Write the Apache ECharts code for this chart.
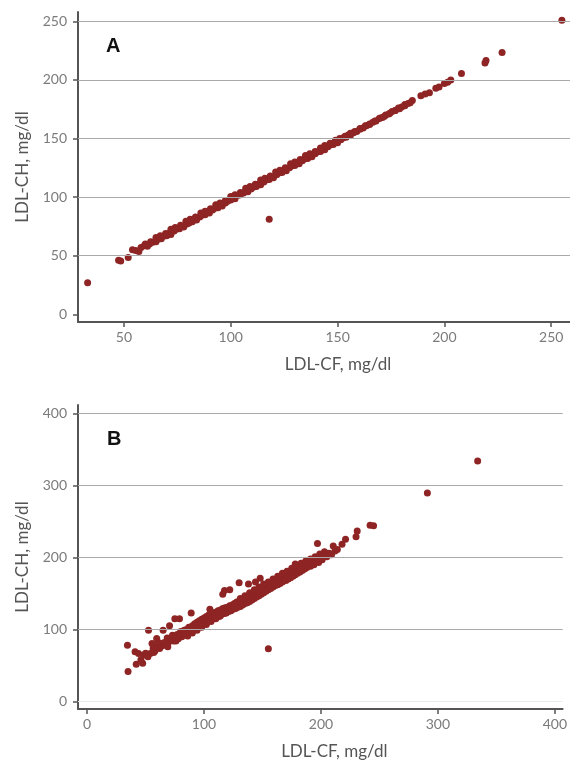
<!DOCTYPE html>
<html lang="en">
<head>
    <meta charset="UTF-8">
    <title>ldl_scatter</title>
    <style type="text/css">
        html, body { margin: 0; padding: 0; background: #fff; }
        #box { width: 570px; height: 761px; }
    </style>
</head>
<body>
<div id="box"></div>
</body>
<script type="text/javascript" src="https://cdn.jsdelivr.net/npm/echarts@6/dist/echarts.min.js"></script>
<script type="text/javascript">
    // panel A: [LDL-CF, LDL-CH]
    let pointsA = [
        [33, 27], [47.5, 46], [48.5, 45.5], [52, 48.5], [54, 55], [55.5, 54.5], [57, 53.5], [58, 57], [59.5, 58.5],
        [61, 58], [62, 60], [63.5, 61.5], [65, 62], [66, 64], [67.5, 64.5], [68.5, 66.5], [70, 67], [71, 69],
        [72, 68], [73.5, 71], [74.5, 72.5], [76, 73], [77, 75], [78, 74.5], [79.5, 77], [80.5, 78], [82, 79],
        [83, 81], [84, 80.5], [85.5, 83], [86.5, 84.5], [88, 85], [89, 87], [90, 86.5], [91.5, 89], [92.5, 90.5],
        [94, 91], [95, 93], [96, 92.5], [97.5, 95], [98.5, 96.5], [100, 97.5], [101, 99], [102, 98.5],
        [103.5, 101.5], [104.5, 102], [106, 103.5], [107, 105], [108, 104.5], [109.5, 107], [110.5, 108.5],
        [112, 109], [113, 111], [114, 110.5], [115.5, 113], [116.5, 114.5], [118, 81], [118, 115], [119, 117],
        [120, 116.5], [121.5, 119], [122.5, 120.5], [124, 121], [125, 123], [126, 122.5], [127.5, 125],
        [128.5, 126.5], [130, 127], [131, 129], [132, 128.5], [133.5, 131], [134.5, 132.5], [136, 133],
        [137, 135], [138, 134.5], [139.5, 137], [140.5, 138.5], [142, 139], [143, 141], [144, 140.5],
        [145.5, 143], [146.5, 144.5], [148, 145], [149, 147], [150, 146.5], [151.5, 149], [152.5, 150.5],
        [154, 151], [155, 153], [156, 152.5], [157.5, 155], [159, 156], [160.5, 158], [162, 159], [163.5, 161],
        [165, 162], [166.5, 164], [168, 165], [169.5, 167], [171, 168], [172.5, 170], [174, 171], [175.5, 173],
        [177, 174], [178.5, 176], [180, 177], [181.5, 179], [183, 180], [185, 182.5], [189, 186.5], [191, 188],
        [193, 189], [196, 193], [197.5, 194], [200, 197], [201.5, 198], [203, 200], [208, 205.5], [219, 214.5],
        [219.5, 216.5], [227, 223.5], [255, 251],
        [60, 60], [62.5, 62], [65, 65.5], [67, 67], [69.5, 69], [72, 72.5], [74, 74], [76.5, 76], [79, 79.5],
        [81, 81], [83.5, 83], [86, 86.5], [88, 88], [90.5, 90], [93, 93.5], [95, 95], [97.5, 97], [100, 100.5],
        [102, 102], [104.5, 104], [107, 107.5], [109, 109], [111.5, 111], [114, 114.5], [116, 116], [118.5, 118],
        [121, 121.5], [123, 123], [125.5, 125], [128, 128.5], [130, 130], [132.5, 132], [135, 135.5], [137, 137],
        [139.5, 139], [142, 142], [144, 144], [146.5, 146], [149, 148.5], [151, 150], [153.5, 152], [156, 154.5],
        [158, 156], [160.5, 158.5], [163, 161], [165, 162.5], [167.5, 165], [170, 167.5], [172, 169],
        [174.5, 171.5], [177, 174], [179, 175.5], [181.5, 178], [184, 180.5]
    ];

    // panel B: [LDL-CF, LDL-CH]
    let pointsB = [
        [34.5, 78], [35, 41.5], [41, 69], [42, 51.5], [44, 66.5], [47.5, 53], [48.5, 64.5], [50, 67], [52.5, 99],
        [54, 66.5], [55.5, 80.5], [56.5, 73.5], [58, 70], [59.5, 87.5], [60, 76], [62, 73.5], [63, 80], [64, 77],
        [65, 99], [66, 82], [67.5, 79], [68.5, 88], [70, 83], [70.5, 105], [72, 86], [73, 92], [74, 84], [75, 115],
        [76, 89], [77, 93], [78, 87], [79, 115], [79.5, 92], [80, 97], [81, 90], [82, 95], [83, 99], [84, 93],
        [85, 100], [86, 96], [87, 103], [88, 98], [89, 123], [89.5, 101], [90, 105], [91, 101], [92, 108],
        [93, 103], [94, 110], [95, 105], [96, 112], [97, 106], [98, 114], [99, 108], [100, 116], [101, 110],
        [102, 118], [103, 111], [104, 120], [105, 128], [105, 113], [106, 121], [107, 114], [108, 123], [109, 116],
        [110, 124], [111, 117], [112, 126], [113, 118], [114, 127], [115, 121], [116, 149], [116, 129], [117, 122],
        [117.5, 154], [118, 130], [119, 123], [120, 131], [121, 125], [122, 155], [122, 133], [123, 126], [124, 134],
        [125, 128], [126, 136], [127, 129], [128, 138], [129, 131], [130, 165], [130, 139], [131, 132], [132, 141],
        [133, 134], [134, 143], [135, 136], [136, 145], [137, 137], [138, 163], [138, 146], [139, 139], [140, 148],
        [141, 141], [142, 150], [143, 143], [144, 166], [144, 152], [145, 145], [146, 153], [147, 147], [148, 171],
        [148, 155], [149, 149], [150, 157], [151, 151], [152, 159], [153, 153], [154, 161], [155, 73], [155, 155],
        [156, 163], [157, 157], [158, 165], [159, 159], [160, 167], [161, 161], [162, 169], [163, 162], [164, 170],
        [165, 164], [166, 172], [167, 166], [168, 174], [169, 177], [170, 168], [171, 176], [172, 170], [173, 178],
        [174, 172], [175, 180], [176, 174], [177, 182], [178, 191], [178, 176], [179, 183], [180, 178], [181, 185],
        [182, 180], [183, 187], [184, 182], [185, 189], [186, 184], [187, 190], [188, 186], [190, 192], [191, 188],
        [193, 194], [194, 190], [196, 196], [197, 219.5], [198, 193], [200, 200], [201, 197], [203, 203],
        [205, 201], [207, 206], [209, 204], [210.5, 216], [212, 209], [214, 211], [218, 218.5], [221, 225.5],
        [230, 229], [231, 237], [242, 245], [245, 244], [291, 289.5], [334, 334],
        [131, 143], [135, 147], [139, 151], [143, 155], [147, 159], [151, 163], [155, 166], [159, 170], [163, 174],
        [167, 178], [171, 181], [175, 185], [179, 188], [183, 192], [187, 195], [191, 198], [195, 201], [199, 205],
        [203, 208], [86, 91], [90, 95], [94, 99], [98, 103], [102, 107], [106, 111], [110, 115], [114, 119],
        [118, 123], [122, 127], [126, 131], [46, 58], [52, 62], [57, 68], [61, 82], [69, 76], [76, 84]
    ];

    let xTicksA = [50, 100, 150, 200, 250];
    let yTicksA = [0, 50, 100, 150, 200, 250];
    let xTicksB = [0, 100, 200, 300, 400];
    let yTicksB = [0, 100, 200, 300, 400];

    let xName = 'LDL-CF, mg/dl';
    let yName = 'LDL-CH, mg/dl';

    const dotColor = '#8E2524';
    const axisColor = '#555';
    const labelStyle = {color: '#7b7b7b', fontSize: 14, fontFamily: 'Lato'};
    const nameStyle = {color: '#555', fontSize: 17, fontFamily: 'Lato'};

    function xAxisOf(idx, min, max, ticks) {
        return {
            type: 'value', gridIndex: idx, min: min, max: max,
            name: xName, nameLocation: 'middle', nameGap: 34,
            nameTextStyle: Object.assign({padding: [0, 0, 0, 28]}, nameStyle),
            axisLine: {onZero: false, lineStyle: {color: axisColor, width: 2}},
            axisTick: {customValues: ticks, length: 5, lineStyle: {color: axisColor, width: 1.5}},
            axisLabel: Object.assign({customValues: ticks, margin: 8}, labelStyle),
            splitLine: {show: false}
        };
    }

    function yAxisOf(idx, min, max, ticks) {
        return {
            type: 'value', gridIndex: idx, min: min, max: max,
            name: yName, nameLocation: 'middle', nameGap: 47,
            nameTextStyle: nameStyle,
            axisLine: {onZero: false, lineStyle: {color: axisColor, width: 2}},
            axisTick: {customValues: ticks, length: 5, lineStyle: {color: axisColor, width: 1.5}},
            axisLabel: Object.assign({customValues: ticks, margin: 11}, labelStyle),
            splitLine: {show: false}
        };
    }

    // gridlines drawn through the axes' own scale, kept under the dots
    function gridSeries(idx, ticks, faintZero) {
        return {
            type: 'scatter', xAxisIndex: idx, yAxisIndex: idx, data: [], z: 1,
            markLine: {
                silent: true, symbol: 'none', animation: false,
                label: {show: false},
                data: ticks.map(function (v) {
                    let faint = v === 0;
                    return {
                        yAxis: v,
                        lineStyle: {
                            color: faint ? (faintZero ? '#e4eeee' : 'rgba(0,0,0,0)') : '#a9a9a9',
                            width: 1.2, type: 'solid'
                        }
                    };
                })
            }
        };
    }

    function dotSeries(idx, data) {
        return {
            type: 'scatter', xAxisIndex: idx, yAxisIndex: idx, z: 3,
            symbolSize: 7, itemStyle: {color: dotColor, opacity: 1},
            data: data
        };
    }

    let myChart = echarts.init(document.getElementById('box'), null, {renderer: 'canvas'});
    let option = {
        animation: false,
        backgroundColor: '#fff',
        title: [
            {text: 'A', left: 101, top: 31, textStyle: {fontSize: 20, fontWeight: 'bold', color: '#111', fontFamily: 'Liberation Sans'}},
            {text: 'B', left: 102, top: 424, textStyle: {fontSize: 20, fontWeight: 'bold', color: '#111', fontFamily: 'Liberation Sans'}}
        ],
        grid: [
            {left: 78, top: 12, width: 492, height: 310},
            {left: 78, top: 405, width: 492, height: 306}
        ],
        xAxis: [
            xAxisOf(0, 28.5, 258.8, xTicksA),
            xAxisOf(1, -7.8, 406.7, xTicksB)
        ],
        yAxis: [
            yAxisOf(0, -6.6, 258, yTicksA),
            yAxisOf(1, -10.6, 412, yTicksB)
        ],
        series: [
            gridSeries(0, yTicksA, false),
            gridSeries(1, yTicksB, true),
            dotSeries(0, pointsA),
            dotSeries(1, pointsB)
        ]
    };
    myChart.setOption(option);
</script>
</html>
